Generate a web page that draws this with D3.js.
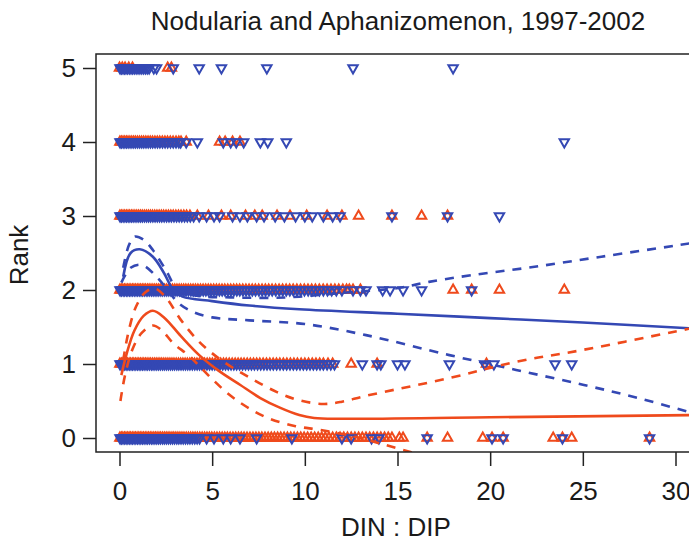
<!DOCTYPE html>
<html>
<head>
<meta charset="utf-8">
<script src="https://cdn.jsdelivr.net/npm/d3@7"></script>
<style>
  body { margin: 0; background: #fff; }
  text { font-family: "Liberation Sans", Arial, sans-serif; fill: #1a1a1a; }
</style>
</head>
<body>
<svg id="chart" width="689" height="548"></svg>
<script>
// observed ranks, DIN:DIP value of each sample (red = Nodularia, blue = Aphanizomenon)
var ranks = [0, 1, 2, 3, 4, 5];

var redX0 = [0.02,0.1,0.18,0.27,0.35,0.44,0.52,0.6,0.69,0.78,0.86,0.95,1.04,1.12,1.21,1.3,1.39,1.48,1.57,1.66,1.75,1.85,1.94,2.03,2.13,2.22,2.32,2.42,2.52,2.62,2.72,2.83,2.93,3.04,3.15,3.26,3.37,3.48,3.6,3.72,3.84,3.96,4.08,4.2,4.33,4.46,4.59,4.72,4.85,4.98,5.12,5.26,5.4,5.54,5.68,5.82,5.97,6.12,6.27,6.42,6.57,6.72,6.88,7.04,7.2,7.36,7.52,7.68,7.85,8.02,8.19,8.36,8.53,8.7,8.88,9.06,9.24,9.42,9.6,9.78,9.96,10.15,10.34,10.53,10.72,10.91,11.1,11.3,11.5,11.7,11.9,12.1,12.3,12.5,12.7,12.9,13.1,13.3,13.5,13.7,13.9,14.1,14.3,14.5,14.7,15.1,15.3,16.6,17.7,19.6,20.1,20.7,23.4,23.9,24.4,28.6];
var blueX0 = [0.03,0.11,0.19,0.28,0.36,0.45,0.53,0.62,0.7,0.79,0.88,0.97,1.06,1.15,1.24,1.33,1.43,1.52,1.62,1.72,1.81,1.91,2.01,2.11,2.21,2.32,2.42,2.53,2.64,2.75,2.86,2.97,3.09,3.2,3.32,3.44,3.56,3.68,3.8,3.93,4.06,4.19,4.32,4.7,5.1,5.6,6.0,6.5,7.4,9.3,12.0,12.5,13.6,14.0,16.6,20.1,20.7,23.9,28.6];

var redX1 = [0.02,0.1,0.18,0.26,0.35,0.43,0.52,0.6,0.69,0.77,0.86,0.95,1.04,1.13,1.22,1.31,1.4,1.49,1.59,1.68,1.78,1.88,1.98,2.08,2.18,2.28,2.39,2.5,2.61,2.72,2.83,2.94,3.06,3.18,3.3,3.42,3.54,3.66,3.79,3.92,4.05,4.18,4.31,4.45,4.59,4.73,4.87,5.01,5.16,5.31,5.46,5.61,5.76,5.92,6.08,6.24,6.4,6.56,6.72,6.89,7.06,7.23,7.4,7.57,7.75,7.93,8.11,8.29,8.47,8.65,8.84,9.03,9.22,9.41,9.6,9.8,10.0,10.2,10.4,10.6,10.8,11.0,11.25,11.5,12.5,13.9,19.8];
var blueX1 = [0.03,0.11,0.19,0.28,0.36,0.45,0.53,0.62,0.7,0.79,0.88,0.97,1.06,1.15,1.24,1.33,1.43,1.52,1.62,1.72,1.81,1.91,2.01,2.11,2.21,2.32,2.42,2.53,2.64,2.75,2.86,2.97,3.09,3.2,3.32,3.44,3.56,3.68,3.8,3.93,4.06,4.19,4.32,4.45,4.58,4.72,4.86,5.0,5.14,5.28,5.42,5.57,5.72,5.87,6.02,6.17,6.32,6.48,6.64,6.8,6.96,7.12,7.28,7.45,7.62,7.79,7.96,8.13,8.3,8.48,8.66,8.84,9.02,9.2,9.38,9.56,9.74,9.92,10.1,10.28,10.46,10.64,10.82,11.0,11.2,11.4,11.6,13.1,13.9,14.1,15.0,15.4,17.8,19.7,20.2,23.5,24.4];

var redX2 = [0.02,0.1,0.18,0.27,0.35,0.44,0.52,0.61,0.7,0.78,0.87,0.96,1.05,1.14,1.23,1.32,1.41,1.51,1.6,1.7,1.8,1.9,2.0,2.1,2.2,2.31,2.42,2.53,2.64,2.75,2.86,2.98,3.1,3.22,3.34,3.46,3.58,3.71,3.84,3.97,4.1,4.23,4.37,4.51,4.65,4.79,4.93,5.08,5.23,5.38,5.53,5.68,5.84,6.0,6.16,6.32,6.48,6.65,6.82,6.99,7.16,7.33,7.51,7.69,7.87,8.05,8.23,8.42,8.61,8.8,8.99,9.18,9.37,9.57,9.77,9.97,10.17,10.37,10.57,10.78,10.99,11.2,11.41,11.62,11.83,12.05,12.25,12.4,12.6,13.0,18.0,19.0,20.5,24.0];
var blueX2 = [0.03,0.11,0.2,0.28,0.37,0.45,0.54,0.62,0.71,0.8,0.89,0.98,1.07,1.16,1.25,1.34,1.44,1.53,1.63,1.73,1.82,1.92,2.02,2.12,2.23,2.33,2.44,2.55,2.66,2.77,2.88,3.0,3.11,3.23,3.35,3.47,3.59,3.72,3.85,3.98,4.11,4.24,4.38,4.52,4.66,4.8,4.94,5.09,5.24,5.39,5.54,5.69,5.85,6.01,6.17,6.33,6.49,6.66,6.83,7.0,7.17,7.34,7.52,7.7,7.88,8.06,8.24,8.43,8.62,8.81,9.0,9.19,9.38,9.58,9.78,9.98,10.18,10.38,10.58,10.79,11.0,11.22,11.45,11.7,12.0,12.6,13.0,13.3,14.2,14.6,15.3,16.3,19.0];

var redX3 = [0.02,0.1,0.19,0.28,0.37,0.46,0.55,0.64,0.73,0.83,0.93,1.03,1.13,1.23,1.34,1.45,1.56,1.67,1.78,1.9,2.02,2.14,2.26,2.38,2.51,2.64,2.77,2.9,3.04,3.18,3.32,3.47,3.62,3.8,4.2,4.8,5.5,6.0,6.8,7.3,7.7,8.5,9.2,10.1,11.2,12.0,12.9,14.7,16.3,17.7];
var blueX3 = [0.03,0.11,0.2,0.29,0.38,0.47,0.56,0.65,0.74,0.84,0.94,1.04,1.14,1.24,1.35,1.46,1.57,1.68,1.8,1.92,2.04,2.16,2.28,2.41,2.54,2.67,2.8,2.94,3.08,3.22,3.36,3.51,3.66,3.82,4.0,4.3,4.7,5.1,5.4,6.1,6.5,6.9,7.4,7.8,8.4,8.9,9.5,10.0,10.4,11.0,11.5,11.9,14.7,17.7,20.5];

var redX4 = [0.02,0.1,0.19,0.28,0.37,0.46,0.56,0.66,0.76,0.86,0.97,1.08,1.19,1.3,1.42,1.54,1.66,1.78,1.91,2.04,2.17,2.31,2.45,2.59,2.74,2.89,3.05,3.2,3.32,3.6,5.4,5.7,6.1,6.5];
var blueX4 = [0.03,0.11,0.2,0.29,0.38,0.47,0.57,0.67,0.77,0.87,0.98,1.09,1.2,1.31,1.43,1.55,1.67,1.79,1.92,2.05,2.18,2.32,2.46,2.6,2.75,2.9,3.05,3.2,3.3,3.6,4.2,5.6,6.0,6.3,6.7,7.6,8.0,9.0,24.0];

var redX5 = [0.0,0.15,0.3,0.5,0.7,2.6,2.8];
var blueX5 = [0.03,0.11,0.19,0.27,0.35,0.44,0.53,0.62,0.71,0.8,0.9,1.0,1.1,1.2,1.3,1.4,1.5,1.6,1.85,2.0,2.9,4.3,5.5,7.95,12.6,18.0];

var redByRank = [redX0, redX1, redX2, redX3, redX4, redX5];
var blueByRank = [blueX0, blueX1, blueX2, blueX3, blueX4, blueX5];

// fitted mean rank and confidence band, [DIN:DIP, rank]
var redFit = [[0.1,0.85],[0.4,1.15],[0.8,1.45],[1.3,1.65],[1.8,1.72],[2.4,1.63],[3.3,1.38],[4.3,1.12],[5.4,0.9],[6.5,0.72],[7.6,0.54],[8.65,0.41],[9.7,0.31],[10.5,0.27],[12,0.26],[20,0.28],[31,0.31]];
var redUpper = [[0.2,1.05],[0.5,1.45],[0.9,1.78],[1.4,1.97],[1.9,2.02],[2.5,1.9],[3.3,1.6],[4.3,1.3],[5.5,1.05],[7,0.82],[8.5,0.62],[9.7,0.51],[11,0.46],[12,0.49],[13.3,0.57],[17.8,0.81],[21.4,1.03],[25,1.19],[30.4,1.46],[31,1.49]];
var redLower = [[0.05,0.5],[0.3,0.85],[0.7,1.2],[1.2,1.42],[1.8,1.52],[2.3,1.45],[2.9,1.28],[3.8,1.1],[4.9,0.82],[6,0.57],[7,0.4],[8.1,0.26],[9.5,0.16],[10.8,0.11],[12.5,0.03],[14,-0.07],[15.7,-0.19],[17.5,-0.3]];

var blueFit = [[0.2,2.18],[0.6,2.5],[1.1,2.55],[1.8,2.45],[2.4,2.23],[2.9,2.0],[3.4,1.91],[5,1.85],[7,1.79],[9.7,1.74],[15,1.68],[20,1.62],[25,1.56],[31,1.48]];
var blueUpper = [[0.2,2.3],[0.5,2.6],[0.8,2.72],[1.3,2.68],[1.8,2.54],[2.5,2.27],[3.1,2.02],[4,1.93],[6,1.9],[9,1.9],[12,1.96],[15.1,2.03],[16.7,2.11],[19,2.2],[22.3,2.31],[26,2.45],[30,2.6],[31,2.64]];
var blueLower = [[0.1,2.1],[0.6,2.3],[1.2,2.34],[2,2.18],[2.6,2.0],[3.2,1.82],[4,1.7],[5,1.63],[7,1.59],[10,1.54],[13.3,1.39],[17.8,1.12],[21.4,0.92],[25,0.72],[28,0.54],[31,0.33]];

var xTicks = [0, 5, 10, 15, 20, 25, 30];

var red = "#ef4a1c";
var blue = "#3448b4";

var svg = d3.select("#chart");

var x = d3.scaleLinear().domain([0, 30]).range([119.5, 675.5]);
var y = d3.scaleLinear().domain([0, 5]).range([438, 68]);

var box = {left: 96, top: 54, right: 710, bottom: 452};

svg.append("defs").append("clipPath").attr("id", "clip")
  .append("rect")
  .attr("x", box.left).attr("y", box.top)
  .attr("width", box.right - box.left).attr("height", box.bottom - box.top);

// points
var tri = d3.symbol().type(d3.symbolTriangle).size(38);

function drawPoints(byRank, color, flip) {
  var pts = [];
  byRank.forEach(function(xs, r) {
    xs.forEach(function(v) { pts.push({x: v, r: ranks[r]}); });
  });
  svg.append("g")
    .attr("clip-path", "url(#clip)")
    .selectAll("path")
    .data(pts)
    .join("path")
    .attr("d", tri)
    .attr("transform", function(d) {
      return "translate(" + x(d.x) + "," + y(d.r) + ")" + (flip ? "rotate(180)" : "");
    })
    .attr("fill", "none")
    .attr("stroke", color)
    .attr("stroke-width", 2);
}

drawPoints(redByRank, red, false);
drawPoints(blueByRank, blue, true);

// fitted curves
var line = d3.line()
  .x(function(d) { return x(d[0]); })
  .y(function(d) { return y(d[1]); })
  .curve(d3.curveCatmullRom);

var curves = svg.append("g").attr("clip-path", "url(#clip)");

[[blueFit, blue, null], [blueUpper, blue, "9,8"], [blueLower, blue, "9,8"],
 [redFit, red, null], [redUpper, red, "9,8"], [redLower, red, "9,8"]].forEach(function(c) {
  curves.append("path")
    .datum(c[0])
    .attr("d", line)
    .attr("fill", "none")
    .attr("stroke", c[1])
    .attr("stroke-width", 2.6)
    .attr("stroke-dasharray", c[2]);
});

// box (right side falls outside the picture)
svg.append("path")
  .attr("d", "M" + box.right + "," + box.top + "H" + box.left + "V" + box.bottom + "H" + box.right)
  .attr("fill", "none")
  .attr("stroke", "#222")
  .attr("stroke-width", 1.5);

// axes
var xAxis = svg.append("g")
  .attr("transform", "translate(0," + box.bottom + ")")
  .call(d3.axisBottom(x).tickValues(xTicks).tickSize(14).tickPadding(16));
xAxis.select(".domain").remove();

var yAxis = svg.append("g")
  .attr("transform", "translate(" + box.left + ",0)")
  .call(d3.axisLeft(y).tickValues(ranks).tickFormat(d3.format("d")).tickSize(13).tickPadding(7));
yAxis.select(".domain").remove();

svg.selectAll(".tick line").attr("stroke", "#222").attr("stroke-width", 1.5);
svg.selectAll(".tick text")
  .style("font-family", "'Liberation Sans', Arial, sans-serif")
  .style("font-size", "26px")
  .attr("fill", "#1a1a1a");

// titles
svg.append("text")
  .attr("x", 398).attr("y", 30)
  .attr("text-anchor", "middle")
  .style("font-size", "26px")
  .text("Nodularia and Aphanizomenon, 1997-2002");

svg.append("text")
  .attr("x", 396).attr("y", 536)
  .attr("text-anchor", "middle")
  .style("font-size", "26px")
  .text("DIN : DIP");

svg.append("text")
  .attr("transform", "translate(28,255)rotate(-90)")
  .attr("text-anchor", "middle")
  .style("font-size", "26px")
  .text("Rank");
</script>
</body>
</html>
